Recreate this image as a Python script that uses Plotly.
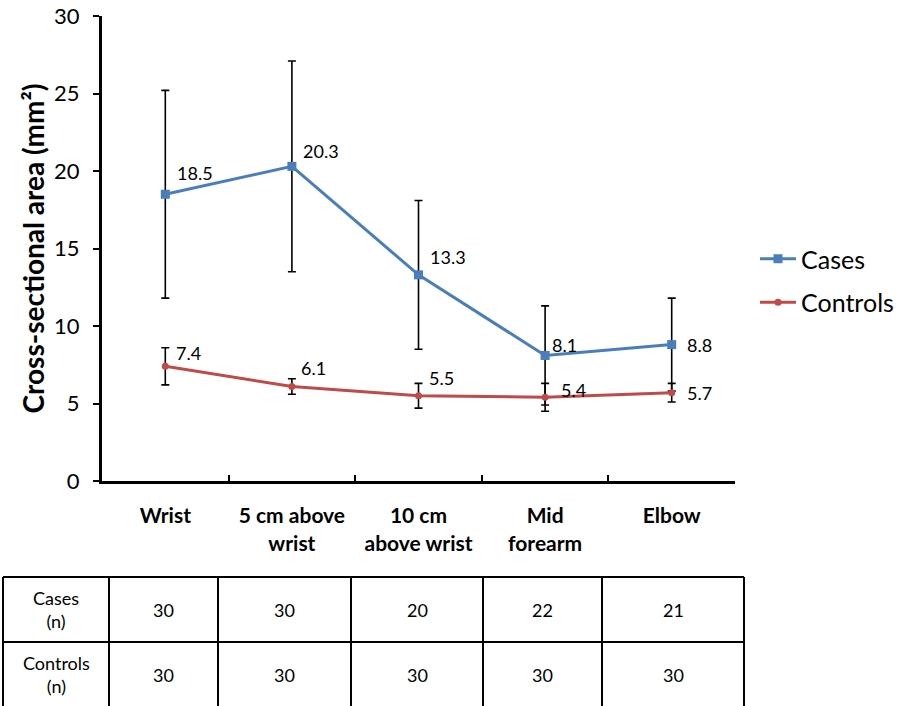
import plotly.graph_objects as go

categories = ["Wrist", "5 cm above<br>wrist", "10 cm<br>above wrist", "Mid<br>forearm", "Elbow"]
cases = [18.5, 20.3, 13.3, 8.1, 8.8]
cases_err = [6.7, 6.8, 4.8, 3.2, 3.0]
controls = [7.4, 6.1, 5.5, 5.4, 5.7]
controls_err = [1.2, 0.5, 0.8, 0.9, 0.6]
table_rows = ["Cases<br>(n)", "Controls<br>(n)"]
cases_n = [30, 30, 20, 22, 21]
controls_n = [30, 30, 30, 30, 30]

FONT = "Lato"
W, H = 899, 706
BLUE = "#4A7EBB"
RED = "#BE4B48"

fig = go.Figure()
fig.add_trace(go.Scatter(
    x=categories, y=cases, name="Cases", mode="lines+markers",
    line=dict(color=BLUE, width=3), marker=dict(symbol="square", size=9, color=BLUE),
    error_y=dict(type="data", array=cases_err, color="black", thickness=1.6, width=4),
    legendgroup="a",
))
fig.add_trace(go.Scatter(
    x=categories, y=controls, name="Controls", mode="lines+markers",
    line=dict(color=RED, width=3), marker=dict(symbol="circle", size=7, color=RED),
    error_y=dict(type="data", array=controls_err, color="black", thickness=1.6, width=4),
    legendgroup="b",
))

# data labels
label_pos = {  # (xshift, yshift) per point
    "cases": [(10, 21), (9, 15), (9, 18), (5, 10), (13, 0)],
    "controls": [(9, 13), (7, 18), (8, 18), (14, 7), (13, 0)],
}
for series, vals in (("cases", cases), ("controls", controls)):
    for i, (c, v) in enumerate(zip(categories, vals)):
        dx, dy = label_pos[series][i]
        fig.add_annotation(x=c, y=v, text=f"{v}", showarrow=False, xanchor="left",
                           yanchor="middle", xshift=dx, yshift=dy,
                           font=dict(family=FONT, size=18, color="black"))

# n table drawn with shapes + annotations (paper coordinates)
col_edges = [3, 109, 218, 351, 483, 602, 744]
row_edges = [577, 642, 707]
shapes = []
for xe in col_edges:
    shapes.append(dict(type="line", xref="paper", yref="paper",
                       x0=xe / W, x1=xe / W, y0=1 - row_edges[0] / H, y1=1 - row_edges[-1] / H,
                       line=dict(color="black", width=2)))
for ye in row_edges:
    shapes.append(dict(type="line", xref="paper", yref="paper",
                       x0=col_edges[0] / W, x1=col_edges[-1] / W, y0=1 - ye / H, y1=1 - ye / H,
                       line=dict(color="black", width=2)))
table_data = [[table_rows[0]] + [str(n) for n in cases_n],
              [table_rows[1]] + [str(n) for n in controls_n]]
for r, row in enumerate(table_data):
    yc = (row_edges[r] + row_edges[r + 1]) / 2
    for c, txt in enumerate(row):
        xc = (col_edges[c] + col_edges[c + 1]) / 2
        fig.add_annotation(xref="paper", yref="paper", x=xc / W, y=1 - yc / H,
                           text=txt, showarrow=False, xanchor="center", yanchor="middle",
                           font=dict(family=FONT, size=18, color="black"))

fig.update_layout(
    width=W, height=H, margin=dict(l=0, r=0, t=0, b=0, autoexpand=False),
    paper_bgcolor="white", plot_bgcolor="white",
    font=dict(family=FONT, color="black"),
    showlegend=True, shapes=shapes,
    legend=dict(x=755 / W, y=(H - 236) / H, xanchor="left", yanchor="top",
                font=dict(family=FONT, size=25, color="black"),
                tracegroupgap=8, itemwidth=36, bgcolor="rgba(0,0,0,0)"),
    xaxis=dict(domain=[102 / W, 735 / W], range=[-0.5, 4.5], type="category",
               automargin=False,
               showline=True, linecolor="black", linewidth=3, showgrid=False,
               ticks="inside", ticklen=6, tickwidth=2, tickcolor="black", tickson="boundaries",
               tickfont=dict(family=FONT, size=21, color="black", weight="bold"),
               ticklabelstandoff=14, zeroline=False),
    yaxis=dict(domain=[(H - 481) / H, (H - 16) / H], range=[0, 30], dtick=5,
               automargin=False,
               showline=True, linecolor="black", linewidth=3, showgrid=False,
               ticks="outside", ticklen=6, tickwidth=2, tickcolor="black",
               tickfont=dict(family=FONT, size=22, color="black"), ticklabelstandoff=9,
               zeroline=False,
               title=dict(text="Cross-sectional area (mm²)", standoff=2,
                          font=dict(family=FONT, size=28, color="black", weight="bold"))),
)

fig.write_html("out.html", config={"displayModeBar": False},
               post_script="document.body.style.margin='0px';")
